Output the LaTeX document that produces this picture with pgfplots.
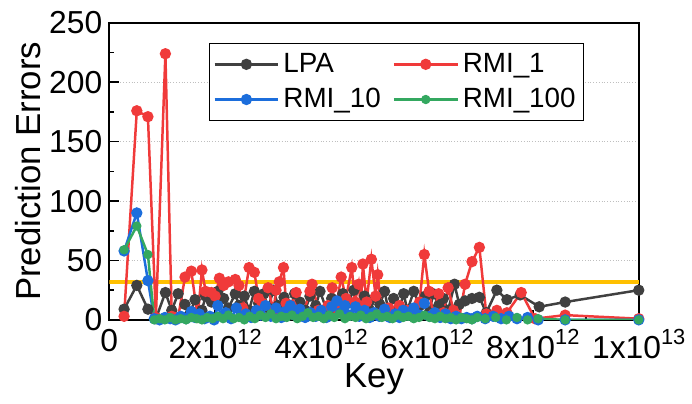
\documentclass[border=0pt]{standalone}
\usepackage{fontspec}
\setmainfont{Liberation Sans}
\usepackage{pgfplots}
\pgfplotsset{compat=1.18}
\definecolor{cLPA}{RGB}{64,64,64}
\definecolor{cR1}{RGB}{240,58,58}
\definecolor{cR10}{RGB}{28,110,220}
\definecolor{cR100}{RGB}{52,168,96}
\definecolor{cOr}{RGB}{255,192,0}
\newcommand{\sx}[1]{\raisebox{0.45em}{\fontsize{11}{12}\selectfont #1}}
\begin{document}
\begin{tikzpicture}
\begin{axis}[
  name=ax,
  scale only axis,
  width=266.5pt, height=149.5pt,
  xmin=0, xmax=10, ymin=0, ymax=250,
  xtick={0,2,4,6,8,10},
  xticklabels={0,2x10\sx{12},4x10\sx{12},6x10\sx{12},8x10\sx{12},1x10\sx{13}},
  minor x tick num=1,
  ytick={0,50,100,150,200,250},
  minor y tick num=1,
  tick align=inside,
  xtick pos=left, ytick pos=left,
  major tick length=5pt, minor tick length=2.5pt,
  every tick/.style={black, line width=0.8pt},
  axis line style={line width=1pt},
  ymajorgrids,
  major grid style={densely dotted, gray!50, line width=0.5pt},
  /pgf/number format/assume math mode=true,
  tick label style={font=\fontsize{16}{18}\selectfont},
  xticklabel style={yshift=-1pt},
  xlabel={Key}, ylabel={Prediction Errors},
  label style={font=\fontsize{17.5}{20}\selectfont},
  ylabel style={at={(axis description cs:-0.154,0.5)}, anchor=center},
  xlabel style={at={(axis description cs:0.5,0)}, yshift=-30pt, anchor=center},
  legend columns=2,
  legend cell align=left,
  legend style={at={(axis description cs:0.188,0.933)}, anchor=north west,
    font=\fontsize{14}{16}\selectfont, draw=black, line width=0.6pt,
    inner xsep=2pt, inner ysep=3pt, row sep=2.5pt,
    /tikz/every even column/.append style={column sep=4pt}},
  legend image code/.code={\draw[mark repeat=2,mark phase=2,#1] plot coordinates {(0pt,0pt) (16pt,0pt) (32pt,0pt)};},
]
\addplot[cOr, line width=2pt, forget plot] coordinates {(0,32) (10,32)};
\addplot[cLPA, line width=1.25pt, mark=*, mark size=2.2pt, mark options={solid}] coordinates {
(0.28,9)(0.52,29)(0.73,9)(0.88,1)(1.06,23)(1.18,8)(1.30,22)(1.43,13)(1.52,5)(1.62,17)
(1.75,8)(1.82,20)(1.93,15)(2.05,24)(2.16,18)(2.25,10)(2.38,22)(2.45,12)(2.55,20)(2.64,8)
(2.74,24)(2.82,14)(2.92,22)(3.00,10)(3.10,25)(3.19,12)(3.30,19)(3.40,6)(3.50,22)(3.60,15)
(3.70,8)(3.79,20)(3.90,12)(3.98,24)(4.10,9)(4.20,18)(4.30,6)(4.41,22)(4.50,14)(4.62,25)
(4.72,10)(4.82,20)(4.92,8)(5.03,19)(5.11,13)(5.20,24)(5.28,6)(5.37,18)(5.48,10)(5.56,22)
(5.63,8)(5.75,24)(5.86,12)(5.97,20)(6.04,6)(6.12,22)(6.22,12)(6.31,18)(6.40,8)(6.52,30)
(6.61,13)(6.72,16)(6.85,18)(6.99,19)(7.12,6)(7.32,25)(7.51,17)(7.76,21)(8.12,11)(8.61,15)
(10,25)};
\addlegendentry{LPA}
\addplot[cR1, line width=1.25pt, mark=*, mark size=2.2pt] coordinates {
(0.28,3)(0.52,176)(0.73,171)(0.88,2)(1.06,224)(1.18,3)(1.30,2)(1.43,36)(1.55,41)(1.67,2)
(1.75,42)(1.82,24)(1.93,23)(2.00,20)(2.08,35)(2.16,29)(2.25,32)(2.38,34)(2.45,29)(2.52,10)
(2.64,44)(2.74,40)(2.82,18)(2.89,14)(3.00,27)(3.10,8)(3.15,25)(3.21,32)(3.29,44)(3.34,14)
(3.44,12)(3.53,23)(3.66,5)(3.79,24)(3.83,30)(3.95,8)(4.13,12)(4.21,27)(4.28,10)(4.38,36)
(4.47,18)(4.58,44)(4.64,15)(4.71,30)(4.75,10)(4.79,47)(4.86,15)(4.95,51)(5.03,20)(5.07,38)
(5.15,5)(5.28,10)(5.37,3)(5.48,12)(5.63,8)(5.78,5)(5.86,15)(5.95,55)(6.04,24)(6.12,5)
(6.22,22)(6.31,6)(6.40,27)(6.50,8)(6.61,2)(6.72,30)(6.85,49)(6.99,61)(7.12,5)(7.32,8)
(7.51,6)(7.78,23)(8.04,1)(8.61,4)(10,1)};
\addlegendentry{RMI\_1}
\addplot[cR10, line width=1.25pt, mark=*, mark size=2.2pt] coordinates {
(0.28,58)(0.52,90)(0.73,33)(0.85,1)(0.95,0)(1.05,2)(1.15,1)(1.25,0)(1.35,3)(1.45,1)
(1.55,7)(1.62,2)(1.70,5)(1.80,1)(1.90,3)(1.98,0)(2.05,12)(2.12,3)(2.20,6)(2.30,1)
(2.40,10)(2.48,3)(2.58,5)(2.68,2)(2.78,8)(2.86,4)(2.95,12)(3.05,3)(3.15,10)(3.25,2)
(3.33,7)(3.42,12)(3.50,4)(3.60,9)(3.70,2)(3.80,6)(3.90,3)(4.00,8)(4.10,2)(4.20,11)
(4.30,16)(4.37,6)(4.45,12)(4.55,4)(4.65,11)(4.72,3)(4.82,8)(4.92,2)(5.00,6)(5.10,3)
(5.20,9)(5.30,2)(5.40,5)(5.48,2)(5.55,8)(5.65,4)(5.75,10)(5.85,4)(5.95,14)(6.05,3)
(6.15,6)(6.25,2)(6.35,5)(6.45,1)(6.55,3)(6.65,1)(6.75,2)(6.85,1)(6.95,3)(7.10,1)
(7.25,3)(7.40,1)(7.55,3)(7.70,1)(7.90,2)(8.10,0)(8.61,0)(10,0)};
\addlegendentry{RMI\_10}
\addplot[cR100, line width=1.25pt, mark=*, mark size=1.7pt] coordinates {
(0.28,59)(0.52,79)(0.73,55)(0.85,0)(0.95,1)(1.05,0)(1.15,2)(1.25,0)(1.35,1)(1.45,0)
(1.55,2)(1.65,1)(1.75,0)(1.85,2)(1.95,1)(2.05,3)(2.15,1)(2.25,4)(2.35,1)(2.45,2)
(2.55,0)(2.65,3)(2.75,1)(2.85,4)(2.95,2)(3.05,5)(3.15,1)(3.25,3)(3.35,2)(3.45,4)
(3.55,1)(3.65,3)(3.75,6)(3.85,2)(3.95,3)(4.05,1)(4.15,4)(4.25,2)(4.35,5)(4.45,1)
(4.55,3)(4.65,2)(4.75,4)(4.85,1)(4.95,3)(5.05,5)(5.15,2)(5.25,3)(5.35,1)(5.45,4)
(5.55,2)(5.65,3)(5.75,1)(5.85,2)(5.95,4)(6.05,2)(6.15,1)(6.25,3)(6.35,1)(6.45,2)
(6.55,0)(6.65,2)(6.75,1)(6.85,0)(6.95,2)(7.10,1)(7.30,2)(7.50,0)(7.70,2)(7.90,0)
(8.10,1)(8.61,0)(10,0)};
\addlegendentry{RMI\_100}
\end{axis}
\path (ax.south west) ++(-55pt,-42pt);
\path (ax.north east) ++(24.5pt,11.5pt);
\end{tikzpicture}
\end{document}
